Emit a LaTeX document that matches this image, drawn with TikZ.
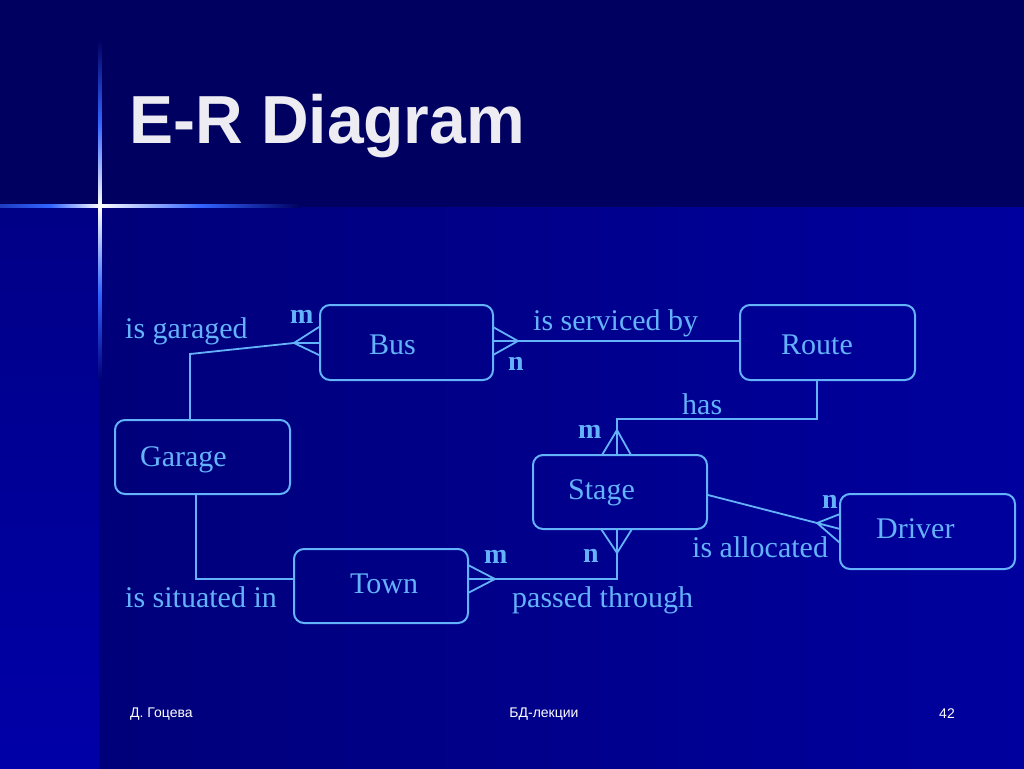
\documentclass[tikz,border=0pt]{standalone}
\usepackage{fontspec}
\setmainfont{Liberation Serif}
\newfontfamily\sansf{Liberation Sans}
\definecolor{lb}{RGB}{100,178,250}
\definecolor{topbg}{RGB}{0,0,96}
\definecolor{stripbg}{RGB}{0,0,168}
\definecolor{mainL}{RGB}{0,0,122}
\definecolor{mainR}{RGB}{0,0,158}
\definecolor{spark}{RGB}{50,100,255}
\definecolor{titlec}{RGB}{236,236,242}
\begin{document}
\begin{tikzpicture}[x=1pt,y=-1pt,
  box/.style={draw=lb, line width=2pt, rounded corners=10pt, inner sep=0pt},
  etext/.style={text=lb, font=\fontsize{30}{36}\selectfont, anchor=base west, inner sep=0pt},
  card/.style={text=lb, font=\fontsize{28}{34}\selectfont\bfseries, anchor=base west, inner sep=0pt},
  conn/.style={draw=lb, line width=1.8pt},
  foot/.style={text=white, font=\sansf\fontsize{14}{16}\selectfont, inner sep=0pt}]
% background
\fill[topbg] (0,0) rectangle (1024,768);
\shade[top color=stripbg!80!black, bottom color=stripbg] (0,207) rectangle (99,768);
\shade[left color=mainL, right color=mainR] (99,207) rectangle (1024,768);
\useasboundingbox (0,0) rectangle (1024,768);
% sparkle
\shade[top color=topbg, bottom color=white, middle color=spark] (98.6,40) rectangle (101.4,206);
\shade[top color=white, bottom color=mainL, middle color=spark] (98.6,206) rectangle (101.4,380);
\shade[left color=spark!60!topbg, right color=white, middle color=spark] (0,204.6) rectangle (100,207.4);
\shade[left color=white, right color=topbg, middle color=spark] (100,204.6) rectangle (300,207.4);
% title
\node[text=titlec, font=\sansf\bfseries\fontsize{68}{80}\selectfont, anchor=base west, inner sep=0pt] (title) at (129,143) {\scalebox{0.97}[1]{E-R Diagram}};
% entity boxes
\node[box, minimum width=173pt, minimum height=75pt] (bus) at (406.5,342.5) {};
\node[box, minimum width=175pt, minimum height=75pt] (route) at (827.5,342.5) {};
\node[box, minimum width=175pt, minimum height=74pt] (garage) at (202.5,457) {};
\node[box, minimum width=174pt, minimum height=74pt] (stage) at (620,492) {};
\node[box, minimum width=175pt, minimum height=75pt] (driver) at (927.5,531.5) {};
\node[box, minimum width=174pt, minimum height=74pt] (town) at (381,586) {};
% entity names
\node[etext] (tbus) at (369,354) {Bus};
\node[etext] (troute) at (781,354) {Route};
\node[etext] (tgarage) at (140,466) {Garage};
\node[etext] (tstage) at (568,499) {Stage};
\node[etext] (tdriver) at (876,538) {Driver};
\node[etext] (ttown) at (350,593) {Town};
% coordinates
\coordinate (g1) at (190,354);
\coordinate (a1) at (294,343);
\coordinate (a1u) at (319,327);
\coordinate (a1m) at (319,343);
\coordinate (a1d) at (319,355);
\coordinate (a2) at (518,341);
\coordinate (a2u) at (493,327);
\coordinate (a2m) at (493,341);
\coordinate (a2d) at (493,355);
\coordinate (r1) at (817,419);
\coordinate (r2) at (617,419);
\coordinate (a3) at (617,430);
\coordinate (a3l) at (602,455);
\coordinate (a3m) at (617,455);
\coordinate (a3r) at (631,455);
\coordinate (a4) at (617,553);
\coordinate (a4l) at (601,529);
\coordinate (a4m) at (617,529);
\coordinate (a4r) at (632,529);
\coordinate (p1) at (617,579);
\coordinate (a5) at (495,579);
\coordinate (a5u) at (468,565);
\coordinate (a5m) at (468,579);
\coordinate (a5d) at (468,593);
\coordinate (a6) at (817,523);
\coordinate (a6u) at (840,514);
\coordinate (a6m) at (840,529);
\coordinate (a6d) at (840,543);
\coordinate (s1) at (196,579);
% connectors
\draw[conn] (garage.north -| g1) -- (g1) -- (a1);
\draw[conn] (a1u) -- (a1) -- (a1d) (a1) -- (a1m);
\draw[conn] (a2u) -- (a2) -- (a2d) (a2m) -- (a2) -- (route.west |- a2);
\draw[conn] (route.south -| r1) -- (r1) -- (r2) -- (a3);
\draw[conn] (a3l) -- (a3) -- (a3r) (a3) -- (a3m);
\draw[conn] (a4l) -- (a4) -- (a4r) (a4m) -- (a4) -- (p1) -- (a5);
\draw[conn] (a5u) -- (a5) -- (a5d) (a5) -- (a5m);
\draw[conn] (stage.east |- 0,495) -- (a6);
\draw[conn] (a6u) -- (a6) -- (a6d) (a6) -- (a6m);
\draw[conn] (garage.south -| s1) -- (s1) -- (town.west |- s1);
% relationship labels
\node[etext] (lgar) at (125,338) {is garaged};
\node[etext] (lserv) at (533,330) {is serviced by};
\node[etext] (lhas) at (682,414) {has};
\node[etext] (lalloc) at (692,557) {is allocated};
\node[etext] (lsit) at (125,607) {is situated in};
\node[etext] (lpass) at (512,607) {passed through};
% cardinalities
\node[card] (c1) at (290,323) {m};
\node[card] (c2) at (508,370) {n};
\node[card] (c3) at (578,438) {m};
\node[card] (c4) at (583,562) {n};
\node[card] (c5) at (822,508) {n};
\node[card] (c6) at (484,563) {m};
% footer
\node[foot, anchor=west] (f1) at (130,714) {Д. Гоцева};
\node[foot] (f2) at (544,714) {БД-лекции};
\node[foot] (f3) at (947,714) {42};
\end{tikzpicture}
\end{document}
